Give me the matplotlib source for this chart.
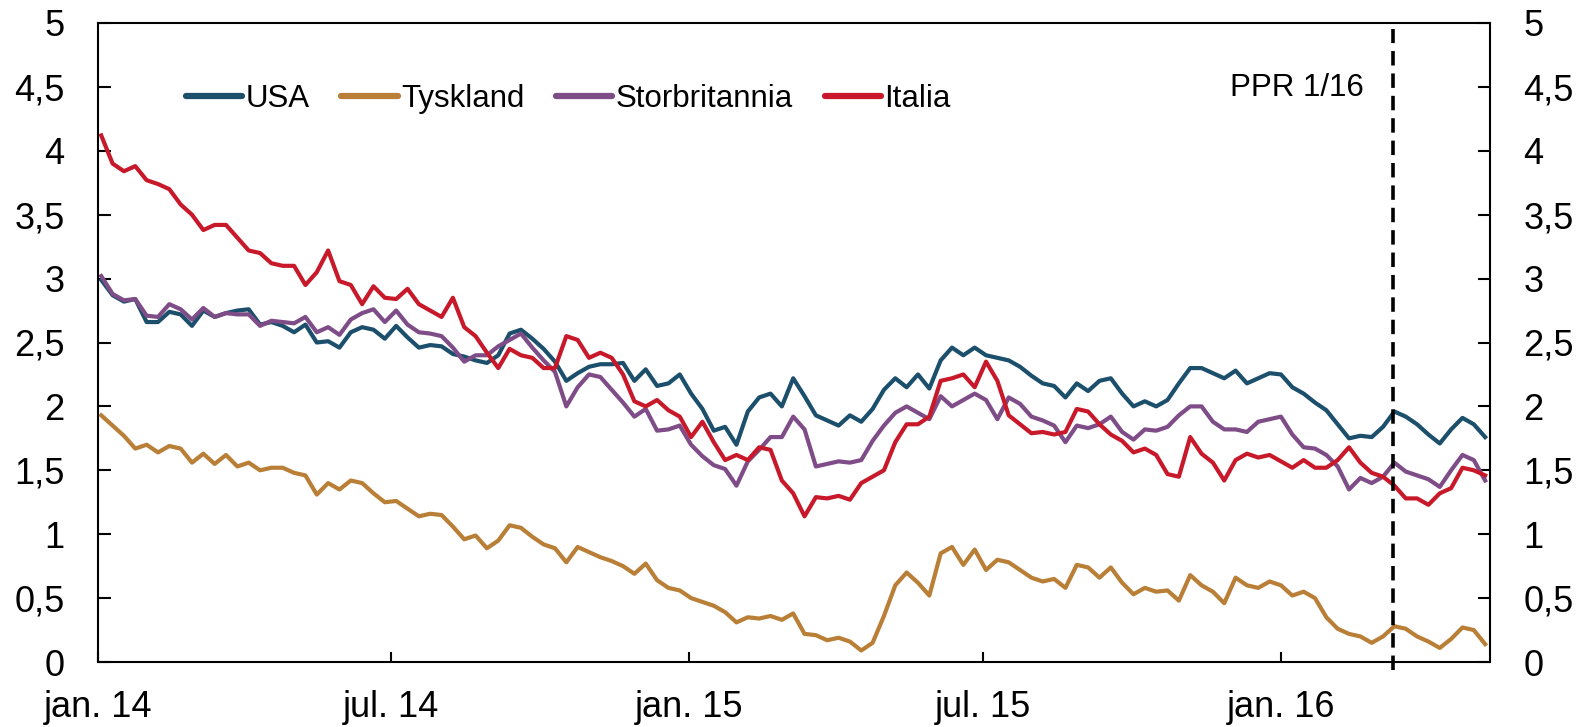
import pandas as pd
import numpy as np
import matplotlib
matplotlib.use("Agg")
import matplotlib.pyplot as plt
import matplotlib.dates as mdates
from matplotlib.ticker import FuncFormatter

# ukentlige observasjoner, 10-års statsrenter
datoer = pd.date_range("2014-01-03", periods=123, freq="7D")

usa = [2.99, 2.87, 2.82, 2.84, 2.66, 2.66, 2.74, 2.72, 2.63, 2.75,
       2.70, 2.73, 2.75, 2.76, 2.64, 2.66, 2.63, 2.58, 2.64, 2.50,
       2.51, 2.46, 2.58, 2.62, 2.60, 2.53, 2.63, 2.54, 2.46, 2.48,
       2.47, 2.41, 2.39, 2.36, 2.34, 2.40, 2.57, 2.60, 2.53, 2.45,
       2.35, 2.20, 2.26, 2.31, 2.33, 2.33, 2.34, 2.20, 2.29, 2.16,
       2.18, 2.25, 2.10, 1.98, 1.81, 1.84, 1.70, 1.96, 2.07, 2.10,
       2.00, 2.22, 2.08, 1.93, 1.89, 1.85, 1.93, 1.88, 1.98, 2.13,
       2.22, 2.15, 2.25, 2.14, 2.36, 2.46, 2.40, 2.46, 2.40, 2.38,
       2.36, 2.31, 2.24, 2.18, 2.16, 2.07, 2.18, 2.12, 2.20, 2.22,
       2.10, 2.00, 2.04, 2.00, 2.05, 2.18, 2.30, 2.30, 2.26, 2.22,
       2.28, 2.18, 2.22, 2.26, 2.25, 2.15, 2.10, 2.03, 1.97, 1.86,
       1.75, 1.77, 1.76, 1.84, 1.96, 1.92, 1.86, 1.78, 1.71, 1.82,
       1.91, 1.86, 1.76]

tyskland = [1.93, 1.85, 1.77, 1.67, 1.70, 1.64, 1.69, 1.67, 1.56, 1.63,
            1.55, 1.62, 1.53, 1.56, 1.50, 1.52, 1.52, 1.48, 1.46, 1.31,
            1.40, 1.35, 1.42, 1.40, 1.32, 1.25, 1.26, 1.20, 1.14, 1.16,
            1.15, 1.06, 0.96, 0.99, 0.89, 0.95, 1.07, 1.05, 0.98, 0.92,
            0.89, 0.78, 0.90, 0.86, 0.82, 0.79, 0.75, 0.69, 0.77, 0.64,
            0.58, 0.56, 0.50, 0.47, 0.44, 0.39, 0.31, 0.35, 0.34, 0.36,
            0.33, 0.38, 0.22, 0.21, 0.17, 0.19, 0.16, 0.09, 0.15, 0.36,
            0.60, 0.70, 0.62, 0.52, 0.85, 0.90, 0.76, 0.88, 0.72, 0.80,
            0.78, 0.72, 0.66, 0.63, 0.65, 0.58, 0.76, 0.74, 0.66, 0.74,
            0.62, 0.53, 0.58, 0.55, 0.56, 0.48, 0.68, 0.60, 0.55, 0.46,
            0.66, 0.60, 0.58, 0.63, 0.60, 0.52, 0.55, 0.50, 0.35, 0.26,
            0.22, 0.20, 0.15, 0.20, 0.28, 0.26, 0.20, 0.16, 0.11, 0.18,
            0.27, 0.25, 0.14]

storbritannia = [3.02, 2.88, 2.83, 2.84, 2.71, 2.70, 2.80, 2.76, 2.68, 2.77,
                 2.70, 2.73, 2.72, 2.72, 2.63, 2.67, 2.66, 2.65, 2.70, 2.58,
                 2.62, 2.56, 2.68, 2.73, 2.76, 2.66, 2.75, 2.64, 2.58, 2.57,
                 2.55, 2.46, 2.35, 2.40, 2.40, 2.47, 2.52, 2.57, 2.46, 2.36,
                 2.27, 2.00, 2.15, 2.25, 2.23, 2.13, 2.03, 1.92, 1.98, 1.81,
                 1.82, 1.85, 1.70, 1.61, 1.54, 1.51, 1.38, 1.57, 1.66, 1.76,
                 1.76, 1.92, 1.82, 1.53, 1.55, 1.57, 1.56, 1.58, 1.73, 1.85,
                 1.95, 2.00, 1.95, 1.90, 2.08, 2.00, 2.05, 2.10, 2.05, 1.90,
                 2.07, 2.02, 1.92, 1.89, 1.85, 1.72, 1.85, 1.83, 1.86, 1.92,
                 1.80, 1.74, 1.82, 1.81, 1.84, 1.93, 2.00, 2.00, 1.88, 1.82,
                 1.82, 1.80, 1.88, 1.90, 1.92, 1.78, 1.68, 1.67, 1.62, 1.53,
                 1.35, 1.44, 1.40, 1.45, 1.56, 1.49, 1.46, 1.43, 1.37, 1.50,
                 1.62, 1.58, 1.42]

italia = [4.12, 3.90, 3.84, 3.88, 3.77, 3.74, 3.70, 3.58, 3.50, 3.38,
          3.42, 3.42, 3.32, 3.22, 3.20, 3.12, 3.10, 3.10, 2.95, 3.05,
          3.22, 2.98, 2.95, 2.80, 2.94, 2.85, 2.84, 2.92, 2.80, 2.75,
          2.70, 2.85, 2.62, 2.55, 2.42, 2.30, 2.45, 2.40, 2.38, 2.30,
          2.30, 2.55, 2.52, 2.38, 2.42, 2.38, 2.25, 2.04, 2.00, 2.05,
          1.97, 1.92, 1.76, 1.88, 1.72, 1.58, 1.62, 1.58, 1.68, 1.66,
          1.42, 1.32, 1.14, 1.29, 1.28, 1.30, 1.27, 1.40, 1.45, 1.50,
          1.72, 1.86, 1.86, 1.92, 2.20, 2.22, 2.25, 2.15, 2.35, 2.20,
          1.93, 1.86, 1.79, 1.80, 1.78, 1.80, 1.98, 1.96, 1.86, 1.78,
          1.73, 1.64, 1.67, 1.62, 1.47, 1.45, 1.76, 1.63, 1.56, 1.42,
          1.58, 1.63, 1.60, 1.62, 1.57, 1.52, 1.58, 1.52, 1.52, 1.58,
          1.68, 1.56, 1.48, 1.45, 1.38, 1.28, 1.28, 1.23, 1.32, 1.36,
          1.52, 1.50, 1.46]

serier = ["USA", "Tyskland", "Storbritannia", "Italia"]
verdier = [usa, tyskland, storbritannia, italia]
farger = ["#1c4f6c", "#b97f37", "#7e4c87", "#c8192b"]

ppr_dato = pd.Timestamp("2016-03-10")

plt.rcParams['font.family'] = ['Liberation Sans', 'DejaVu Sans']

fig = plt.figure(figsize=(15.79, 7.27), dpi=100)
ax = fig.add_axes([98 / 1579, 1 - 662 / 727, 1392 / 1579, 639 / 727])

for navn, v, c in zip(serier, verdier, farger):
    ax.plot(datoer, v, color=c, lw=3, label=navn, solid_joinstyle='round')

# vertikal strek for PPR 1/16
ax.axvline(ppr_dato, ymin=-0.012, ymax=0.99, color='black', lw=2.6, ls=(0, (4, 2.2)), clip_on=False)
ax.text(pd.Timestamp("2016-02-21"), 4.49, "PPR 1/16", ha='right', va='center', fontsize=22.5)

ax.set_xlim(pd.Timestamp("2014-01-01"), pd.Timestamp("2016-05-09"))
ax.set_ylim(0, 5)
ax.set_yticks(np.arange(0, 5.01, 0.5))
ax.yaxis.set_major_formatter(FuncFormatter(lambda v, p: ("%g" % v).replace(".", ",")))

mnd = {1: "jan.", 7: "jul."}
ax.xaxis.set_major_locator(mdates.MonthLocator(bymonth=[1, 7]))
ax.xaxis.set_major_formatter(FuncFormatter(
    lambda v, p: "%s %s" % (mnd[mdates.num2date(v).month], mdates.num2date(v).strftime("%y"))))

ax.tick_params(axis='y', direction='in', length=9, width=1.5, labelsize=26, pad=24,
               left=True, right=True, labelleft=True, labelright=True)
ax.tick_params(axis='x', direction='in', length=7, width=1.5, labelsize=26, pad=20)
for s in ax.spines.values():
    s.set_linewidth(1.5)

leg = ax.legend(ncol=4, loc='center left', bbox_to_anchor=(186 / 1579, 1 - 99 / 727),
                bbox_transform=fig.transFigure, frameon=False, borderpad=0, borderaxespad=0,
                handlelength=1.8, handletextpad=0.12, columnspacing=1.0,
                prop={'size': 22.5})
for h in leg.get_lines():
    h.set_linewidth(4.5)
    h.set_solid_capstyle('round')

plt.savefig("out.png", dpi=100)
